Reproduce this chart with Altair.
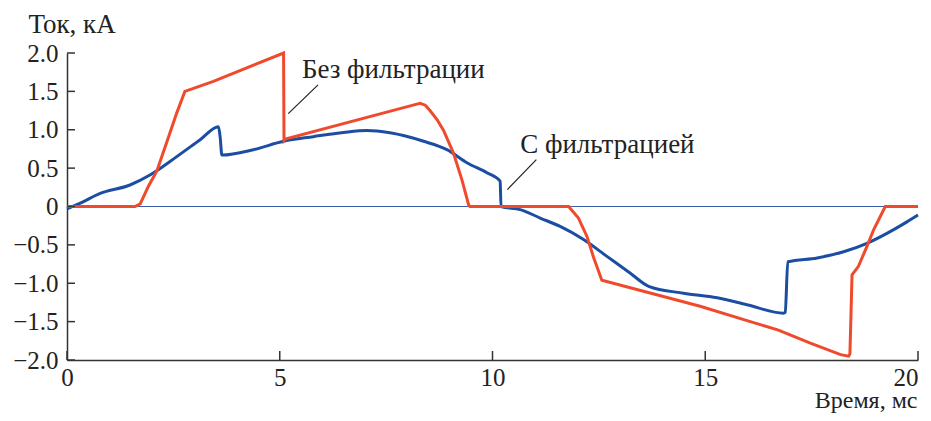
import altair as alt
import pandas as pd

# Без фильтрации (red)
red_x = [0, 1.6, 1.72, 1.91, 2.11, 2.34, 2.58, 2.77, 3.44, 5.09, 5.10, 5.13, 8.20, 8.30, 8.42, 8.53, 8.70, 8.85, 9.08, 9.28, 9.44, 9.47,
         11.79, 12.02, 12.22, 12.38, 12.57, 14.88, 16.06, 16.72, 17.47, 18.18, 18.37, 18.40, 18.45, 18.6, 18.8, 18.96, 19.23, 20.0]
red_y = [0, 0, 0.035, 0.26, 0.46, 0.83, 1.22, 1.5, 1.63, 2.0, 0.86, 0.88, 1.33, 1.345, 1.32, 1.25, 1.13, 0.99, 0.70, 0.35, 0.02, 0,
         0, -0.15, -0.39, -0.67, -0.96, -1.30, -1.50, -1.61, -1.78, -1.93, -1.95, -1.92, -0.89, -0.78, -0.52, -0.30, 0, 0]

# С фильтрацией (blue)
blue_x = [0, 0.3, 0.78, 1.48, 1.95, 2.58, 3.13, 3.56, 3.60, 3.64, 4.38, 5.09, 5.79, 6.5, 7.05, 7.59, 8.38, 8.93, 9.40, 9.87, 10.18, 10.20,
          10.65, 11.12, 11.59, 12.14, 12.69, 13.24, 13.67, 14.49, 15.28, 15.98, 16.84, 16.88, 16.94, 17.63, 18.25, 18.80, 19.27, 19.74, 20.0]
blue_y = [-0.03, 0.04, 0.17, 0.28, 0.41, 0.65, 0.87, 1.04, 0.9, 0.67, 0.74, 0.85, 0.91, 0.965, 0.99, 0.96, 0.85, 0.74, 0.57, 0.44, 0.33, 0,
          -0.04, -0.15, -0.26, -0.43, -0.65, -0.87, -1.04, -1.13, -1.19, -1.28, -1.39, -1.38, -0.72, -0.67, -0.59, -0.48, -0.35, -0.20, -0.11]

x_ticks = [0, 5, 10, 15, 20]
y_ticks = [-2.0, -1.5, -1.0, -0.5, 0, 0.5, 1.0, 1.5, 2.0]

labels = ["Без фильтрации", "С фильтрацией"]
label_x = [5.52, 10.65]
label_y = [1.78, 0.80]
leader_x1 = [5.90, 11.03]
leader_y1 = [1.585, 0.61]
leader_x2 = [5.20, 10.35]
leader_y2 = [1.21, 0.22]

W, H = 851, 307
FONT = "Liberation Serif"
FS = 25
TFS = 27
RED = "#f04a2c"
BLUE = "#1b4ea3"

xs = alt.Scale(domain=[0, 20], nice=False, zero=False)
ys = alt.Scale(domain=[-2, 2], nice=False, zero=False)

label_expr = "datum.value == 0 ? '0' : replace(format(datum.value, '.1f'), '-', '\u2212')"

x_axis = alt.Axis(
    values=x_ticks, title="Время, мс", ticks=False, grid=False, labelPadding=5, format="d",
    labelAlign={"expr": "datum.value == 20 ? 'right' : 'center'"},
    labelFont=FONT, labelFontSize=FS, labelColor="#222", labelFontWeight="normal",
    titleFont=FONT, titleFontSize=24, titleFontWeight="normal", titleColor="#222",
    titleAnchor="end", titleAlign="right", titleX=850, titleY=47, titleBaseline="alphabetic",
    domainColor="#333", domainWidth=1.5, labelFlush=False, labelOverlap=False)
y_axis = alt.Axis(
    values=y_ticks, title="Ток, кA", ticks=False, grid=False, labelPadding=9,
    labelExpr=label_expr,
    labelFont=FONT, labelFontSize=FS, labelColor="#222", labelFlush=False, labelOverlap=False,
    titleFont=FONT, titleFontSize=TFS, titleFontWeight="normal", titleColor="#222",
    titleAngle=0, titleAlign="left", titleBaseline="alphabetic", titleX=-39, titleY=-21,
    domainColor="#333", domainWidth=1.5)


def X(f):
    return alt.X(f, scale=xs, axis=x_axis)


def Y(f):
    return alt.Y(f, scale=ys, axis=y_axis)


red_df = pd.DataFrame({"x": red_x, "y": red_y, "i": range(len(red_x))})
blue_df = pd.DataFrame({"x": blue_x, "y": blue_y, "i": range(len(blue_x))})

zero_line = alt.Chart(pd.DataFrame({"x": [0], "x2": [20], "y": [0]})).mark_rule(
    color="#3a5fad", strokeWidth=1.2
).encode(x=X("x:Q"), x2="x2:Q", y=Y("y:Q"))

xt = alt.Chart(pd.DataFrame({"x": x_ticks})).mark_rule(color="#333", strokeWidth=1.5).encode(
    x=X("x:Q"), y=alt.value(H), y2=alt.value(H - 9))
yt = alt.Chart(pd.DataFrame({"y": y_ticks})).mark_rule(color="#333", strokeWidth=1.5).encode(
    y=Y("y:Q"), x=alt.value(0), x2=alt.value(8))

blue = alt.Chart(blue_df).mark_line(color=BLUE, strokeWidth=3, interpolate="monotone").encode(
    x=X("x:Q"), y=Y("y:Q"), order="i:Q")
red = alt.Chart(red_df).mark_line(color=RED, strokeWidth=3).encode(
    x=X("x:Q"), y=Y("y:Q"), order="i:Q")

lead_df = pd.DataFrame({"x": leader_x1, "y": leader_y1, "x2": leader_x2, "y2": leader_y2})
leaders = alt.Chart(lead_df).mark_rule(color="#222", strokeWidth=1.2).encode(
    x=X("x:Q"), y=Y("y:Q"), x2="x2:Q", y2="y2:Q")

text_df = pd.DataFrame({"t": labels, "x": label_x, "y": label_y})
texts = alt.Chart(text_df).mark_text(font=FONT, fontSize=TFS, color="#222", align="left", baseline="middle").encode(
    x=X("x:Q"), y=Y("y:Q"), text="t:N")

chart = alt.layer(zero_line, blue, red, xt, yt, leaders, texts).properties(
    width=W, height=H,
    background="white",
    autosize=alt.AutoSizeParams(type="none"),
    padding={"left": 59, "top": 45, "right": 5, "bottom": 53},
).configure_view(stroke=None)

chart.save("out.html", embed_options={"renderer": "svg", "actions": False})
